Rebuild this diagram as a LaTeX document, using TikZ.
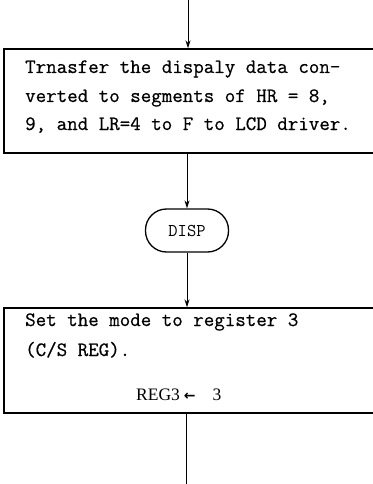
\documentclass[tikz,border=0pt]{standalone}
\usepackage{fontspec}
\setmonofont{Latin Modern Mono}
\newfontfamily\typeface[FakeBold=0.6]{Latin Modern Mono}
\newfontfamily\serifrm{Liberation Serif}
\newfontfamily\symfont{DejaVu Sans}
\usetikzlibrary{arrows.meta}
\begin{document}
\begin{tikzpicture}[x=1pt,y=-1pt,
  procbox/.style={draw,line width=1.4pt,rectangle,inner sep=0pt},
  termbox/.style={draw,line width=1.3pt,rectangle,rounded corners=21pt,
    minimum width=83pt,minimum height=43pt,inner sep=0pt,
    font=\ttfamily\fontsize{18}{18}\selectfont},
  txt/.style={anchor=base west,inner sep=0pt,
    font=\typeface\fontsize{20.4}{20.4}\selectfont},
  flow/.style={line width=0.9pt,-{Stealth[length=8pt,width=5pt]}},
  plain/.style={line width=0.9pt}]
\useasboundingbox (0,0) rectangle (372,484);

% process box: transfer of display data
\node[procbox,minimum width=372pt,minimum height=104pt] (box1) at (190,101) {};
\node[txt] (l1a) at (25,73) {Trnasfer the dispaly data con-};
\node[txt] (l1b) at (25,102) {verted to segments of HR = 8,};
\node[txt] (l1c) at (25,130) {9, and LR=4 to F to LCD driver.};

% display subroutine terminal
\node[termbox] (disp) at (187,230.5) {DISP};

% process box: mode register
\node[procbox,minimum width=372pt,minimum height=105pt] (box2) at (190,360.5) {};
\node[txt] (l2a) at (25,326) {Set the mode to register 3};
\node[txt] (l2b) at (25,356) {(C/S REG).};
\node[anchor=base west,inner sep=0pt,font=\serifrm\fontsize{17.5}{17.5}\selectfont]
  (l2c) at (136,400) {REG3\hspace{4pt}{\symfont\bfseries\fontsize{14}{14}\selectfont ←}\hspace{17pt}3};

% connectors
\coordinate (entry) at (188,0);
\coordinate (exit) at (186,484);
\draw[flow] (entry) -- (entry |- box1.north);
\draw[flow] (disp.north |- box1.south) -- (disp.north);
\draw[flow] (disp.south) -- (disp.south |- box2.north);
\draw[plain] (exit |- box2.south) -- (exit);
\end{tikzpicture}
\end{document}
